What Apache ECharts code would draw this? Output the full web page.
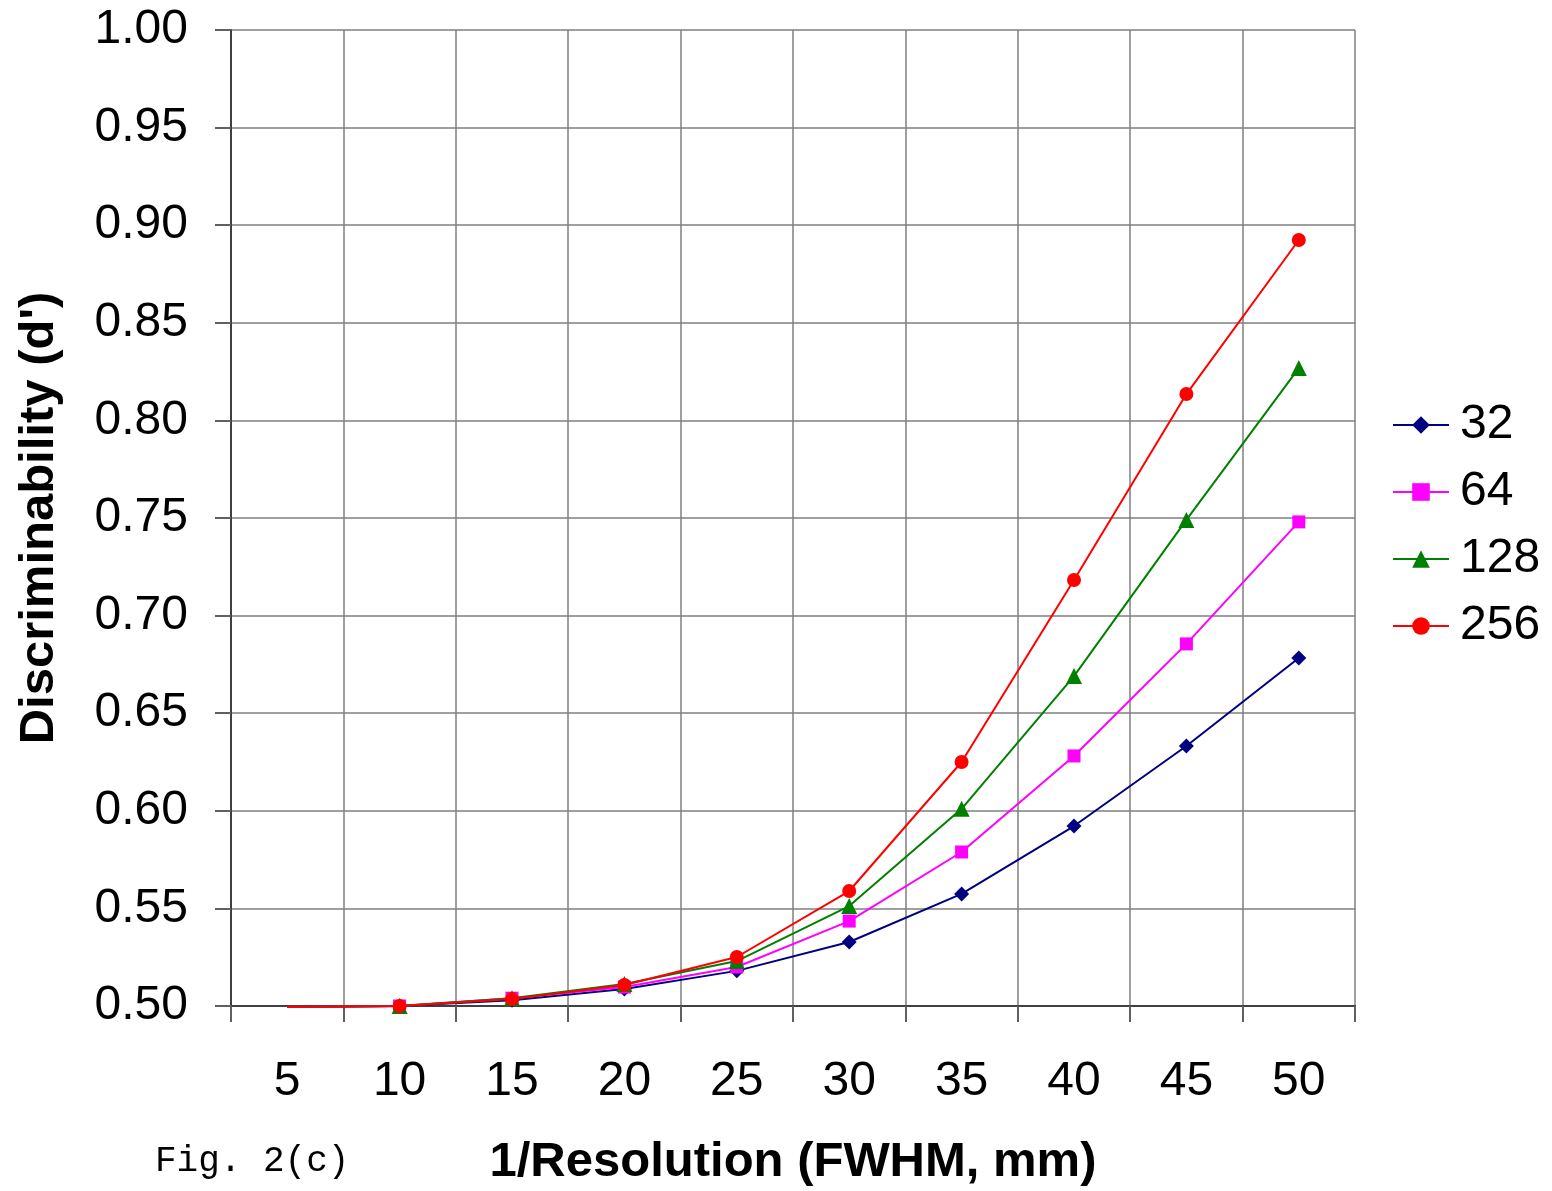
<!DOCTYPE html>
<html><head><meta charset="utf-8">
<script src="https://cdn.jsdelivr.net/npm/echarts@6/dist/echarts.min.js"></script>
<style>html,body{margin:0;padding:0;background:#fff}#c{width:1552px;height:1191px}</style>
</head><body><div id="c"></div>
<script>
const categories = ['5','10','15','20','25','30','35','40','45','50'];
const s32  = [0.4995, 0.500, 0.503, 0.5087, 0.518, 0.5328, 0.5574, 0.5922, 0.6332, 0.6783];
const s64  = [0.4995, 0.500, 0.504, 0.5097, 0.520, 0.5435, 0.5789, 0.6281, 0.6855, 0.7480];
const s128 = [0.4995, 0.500, 0.504, 0.5113, 0.523, 0.5512, 0.6010, 0.6690, 0.7490, 0.8268];
const s256 = [0.4995, 0.500, 0.5036, 0.5108, 0.5251, 0.5589, 0.6250, 0.7182, 0.8135, 0.8924];
const seriesNames = ['32','64','128','256'];
const yMin = 0.5, yMax = 1.0, yStep = 0.05;

const colors = ['#000080','#ff00ff','#008000','#ff0000'];
const symbols = ['diamond','rect','triangle','circle'];
const sizes = [15,13,16,14];
const all = [s32, s64, s128, s256];

const chart = echarts.init(document.getElementById('c'));
const font = '"Liberation Sans", Arial, sans-serif';
chart.setOption({
  animation: false,
  backgroundColor: '#fff',
  grid: {left: 231, right: 197, top: 30, bottom: 185, containLabel: false, outerBoundsMode: 'none'},
  title: {
    text: 'Fig. 2(c)', left: 150, top: 1138,
    textStyle: {fontFamily: '"Liberation Mono", "DejaVu Sans Mono", monospace', fontSize: 36, fontWeight: 'normal', color: '#000'}
  },
  legend: {
    orient: 'vertical', left: 1387, top: 396,
    itemWidth: 56, itemHeight: 22, itemGap: 19,
    textStyle: {fontFamily: font, fontSize: 48, color: '#000', padding: [0,0,0,6]},
    data: seriesNames
  },
  xAxis: {
    type: 'category', data: categories, boundaryGap: true,
    name: '1/Resolution (FWHM, mm)', nameLocation: 'middle', nameGap: 132,
    nameTextStyle: {fontFamily: font, fontSize: 49, fontWeight: 'bold', color: '#000'},
    axisLine: {lineStyle: {color: '#404040', width: 2}},
    axisTick: {show: true, interval: 0, length: 16, lineStyle: {color: '#606060', width: 2}},
    axisLabel: {interval: 0, margin: 52, fontFamily: font, fontSize: 48, color: '#000'},
    splitLine: {show: true, interval: 0, lineStyle: {color: '#7f7f7f', width: 1.5}}
  },
  yAxis: {
    type: 'value', min: yMin, max: yMax, interval: yStep,
    name: "Discriminability (d')", nameLocation: 'middle', nameGap: 167, nameRotate: 90,
    nameTextStyle: {fontFamily: font, fontSize: 49, fontWeight: 'bold', color: '#000'},
    axisLine: {show: true, lineStyle: {color: '#404040', width: 2}},
    axisTick: {show: true, length: 16, lineStyle: {color: '#606060', width: 2}},
    axisLabel: {margin: 43, fontFamily: font, fontSize: 48, color: '#000', formatter: v => v.toFixed(2)},
    splitLine: {show: true, lineStyle: {color: '#7f7f7f', width: 1.5}}
  },
  series: all.map((arr, i) => ({
    name: seriesNames[i], type: 'line',
    symbol: symbols[i], symbolSize: sizes[i],
    clip: false,
    itemStyle: {color: colors[i]},
    lineStyle: {color: colors[i], width: 2},
    z: 2 + i,
    data: arr.map(v => v < yMin ? {value: v, symbol: 'none'} : v)
  }))
});
</script></body></html>
